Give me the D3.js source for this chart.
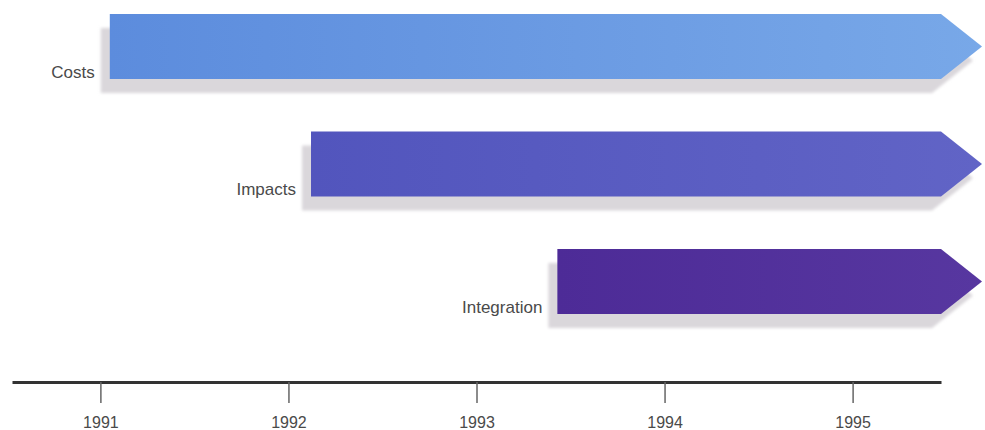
<!DOCTYPE html>
<html>
<head>
<meta charset="utf-8">
<script src="https://cdn.jsdelivr.net/npm/d3@7"></script>
<style>
  html, body { margin: 0; padding: 0; background: #fff; }
  svg { display: block; }
</style>
</head>
<body>
<svg id="chart" width="985" height="430"></svg>
<script>
// Project phases and the year each one began; all run on past the last tick.
const phases = ["Costs", "Impacts", "Integration"];
const startYears = [1991.05, 1992.12, 1993.43];
const endYears = [1995.47, 1995.47, 1995.47];
const tickYears = [1991, 1992, 1993, 1994, 1995];
const phaseColors = [
  ["#5c8cdd", "#78a8e8"],
  ["#5255bd", "#6164c6"],
  ["#4d2b97", "#5737a0"]
];

const svg = d3.select("#chart");

const x = d3.scaleLinear().domain([1990.53, 1995.47]).range([12, 941]);
const y = d3.scaleBand().domain(phases).range([14, 314]).paddingInner(0.447).paddingOuter(0);
const axisY = 382;
const headLen = 41;

const defs = svg.append("defs");
defs.append("filter").attr("id", "soft")
  .attr("filterUnits", "userSpaceOnUse")
  .attr("x", 0).attr("y", 0).attr("width", 985).attr("height", 430)
  .append("feGaussianBlur").attr("stdDeviation", 1.8);

phases.forEach((p, i) => {
  const g = defs.append("linearGradient").attr("id", "grad" + i)
    .attr("x1", "0%").attr("x2", "100%").attr("y1", "0%").attr("y2", "0%");
  g.append("stop").attr("offset", "0%").attr("stop-color", phaseColors[i][0]);
  g.append("stop").attr("offset", "100%").attr("stop-color", phaseColors[i][1]);
});

const rows = phases.map((p, i) => ({ name: p, start: startYears[i], end: endYears[i], i }));

function arrowPath(d, dx, dy) {
  const x0 = x(d.start) + dx, x1 = x(d.end) + dx;
  const y0 = y(d.name) + dy, h = y.bandwidth();
  return `M${x0},${y0}H${x1}L${x1 + headLen},${y0 + h / 2}L${x1},${y0 + h}H${x0}Z`;
}

// drop shadows
svg.append("g").selectAll("path").data(rows).join("path")
  .attr("d", d => arrowPath(d, -9, 14))
  .attr("fill", "#dad7db")
  .attr("filter", "url(#soft)");

// phase arrows
svg.append("g").selectAll("path").data(rows).join("path")
  .attr("d", d => arrowPath(d, 0, 0))
  .attr("fill", d => `url(#grad${d.i})`);

// phase labels
svg.append("g").selectAll("text").data(rows).join("text")
  .attr("x", d => x(d.start) - 15)
  .attr("y", d => y(d.name) + y.bandwidth() - 1)
  .attr("text-anchor", "end")
  .attr("font-family", "Liberation Sans, Arial, sans-serif")
  .attr("font-size", 17)
  .attr("fill", "#4a4a4a")
  .text(d => d.name);

// time axis
const axis = d3.axisBottom(x)
  .tickValues(tickYears)
  .tickFormat(d3.format("d"))
  .tickSize(21)
  .tickSizeOuter(0)
  .tickPadding(14);

const ax = svg.append("g").attr("transform", `translate(0,${axisY})`).call(axis);
ax.select(".domain").attr("stroke", "#333").attr("stroke-width", 3);
ax.selectAll(".tick line").attr("stroke", "#666").attr("stroke-width", 1.5);
ax.selectAll(".tick text")
  .attr("font-family", "Liberation Sans, Arial, sans-serif")
  .attr("font-size", 16)
  .attr("fill", "#4a4a4a");
</script>
</body>
</html>
